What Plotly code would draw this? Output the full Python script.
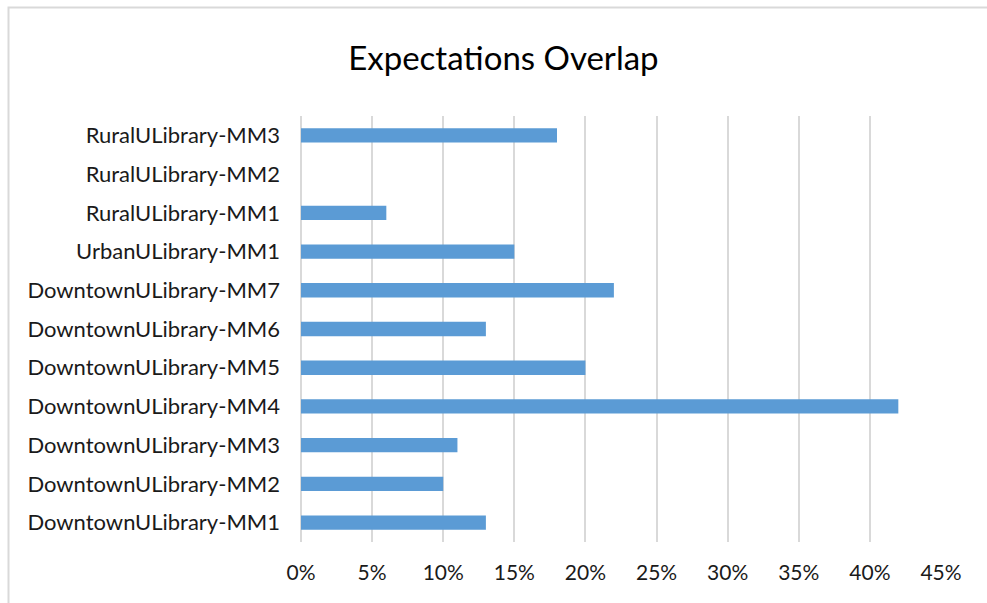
import plotly.graph_objects as go

categories = [
    "DowntownULibrary-MM1",
    "DowntownULibrary-MM2",
    "DowntownULibrary-MM3",
    "DowntownULibrary-MM4",
    "DowntownULibrary-MM5",
    "DowntownULibrary-MM6",
    "DowntownULibrary-MM7",
    "UrbanULibrary-MM1",
    "RuralULibrary-MM1",
    "RuralULibrary-MM2",
    "RuralULibrary-MM3",
]
overlap = [0.13, 0.10, 0.11, 0.42, 0.20, 0.13, 0.22, 0.15, 0.06, 0.0, 0.18]
x_ticks = [0, 0.05, 0.10, 0.15, 0.20, 0.25, 0.30, 0.35, 0.40, 0.45]
x_tick_labels = ["0%", "5%", "10%", "15%", "20%", "25%", "30%", "35%", "40%", "45%"]

W, H = 987, 603
L, R, T, B = 301, 46, 116, 61
pw, ph = W - L - R, H - T - B

fig = go.Figure(
    go.Bar(
        x=overlap,
        y=categories,
        orientation="h",
        width=0.37,
        marker=dict(color="#5B9BD5", line=dict(width=0)),
        hoverinfo="x+y",
    )
)

def px_to_paper_x(px):
    return (px - L) / pw

def px_to_paper_y(py):
    return (H - B - py) / ph

fig.update_layout(
    width=W,
    height=H,
    margin=dict(l=L, r=R, t=T, b=B),
    paper_bgcolor="white",
    plot_bgcolor="white",
    font=dict(family="Lato, Carlito, Open Sans, sans-serif", color="#1a1a1a", size=21),
    title=dict(
        text="Expectations Overlap",
        x=0.51,
        xref="container",
        xanchor="center",
        y=1 - 58 / H,
        yref="container",
        yanchor="middle",
        font=dict(size=33, color="#000000"),
    ),
    showlegend=False,
    xaxis=dict(
        range=[0, 0.45],
        tickvals=x_ticks,
        ticktext=x_tick_labels,
        showgrid=True,
        gridcolor="#D9D9D9",
        gridwidth=2,
        zeroline=True,
        zerolinecolor="#D9D9D9",
        zerolinewidth=2,
        showline=False,
        ticks="",
        ticklabelstandoff=16,
        tickfont=dict(size=21, color="#1a1a1a"),
        fixedrange=True,
    ),
    yaxis=dict(
        type="category",
        categoryorder="array",
        categoryarray=categories,
        showgrid=False,
        zeroline=False,
        showline=False,
        ticks="",
        ticklabelstandoff=20,
        tickfont=dict(size=22, color="#1a1a1a"),
        fixedrange=True,
    ),
    shapes=[
        dict(
            type="rect",
            xref="paper",
            yref="paper",
            x0=px_to_paper_x(8.5),
            x1=px_to_paper_x(W + 10),
            y0=px_to_paper_y(H + 10),
            y1=px_to_paper_y(7.5),
            line=dict(color="#D9D9D9", width=2),
            fillcolor="rgba(0,0,0,0)",
            layer="below",
        )
    ],
)

fig.write_html(
    "out.html",
    config={"displayModeBar": False},
    post_script="document.body.style.margin='0';document.body.style.overflow='hidden';",
)
